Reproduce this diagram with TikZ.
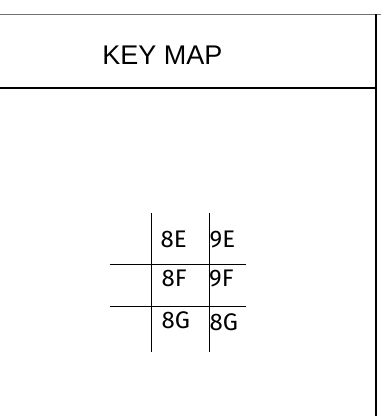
\documentclass[tikz,border=0pt]{standalone}
\usepackage{fontspec}
\setmainfont{Liberation Sans}
\newfontfamily\gridfont{Fira Sans}
\usepackage{xcolor}
\usepackage{tikz}
\usetikzlibrary{positioning}
\definecolor{KeyInk}{gray}{0.0}
\definecolor{KeyRule}{gray}{0.45}

\begin{document}
\begin{tikzpicture}[x=1pt,y=-1pt,font=\gridfont\fontsize{24}{28}\selectfont,
    frame/.style={line width=1.3pt,draw=KeyInk},
    grid/.style={line width=1pt,draw=KeyInk},
    cell/.style={anchor=base west,inner sep=0pt,text=KeyInk}]
  \useasboundingbox (0,0) rectangle (381,416);
  % title block
  \draw[line width=1pt,draw=KeyRule] (0,14) -- (381,14);
  \draw[frame] (0,88) -- (376,88);
  \draw[frame] (376,14) -- (376,416);
  \node[inner sep=0pt,font=\rmfamily\fontsize{27}{30}\selectfont] (title) at (162.5,55) {KEY MAP};
  % sheet grid
  \draw[grid] (151,213) -- (151,352);
  \draw[grid] (209,213) -- (209,352);
  \draw[grid] (110,264) -- (246,264);
  \draw[grid] (110,306) -- (246,306);
  \node[cell] (s8E) at (160.5,247) {8E};
  \node[cell] (s9E) at (209.5,247) {9E};
  \node[cell] (s8F) at (161.5,286) {8F};
  \node[cell] (s9F) at (209,286) {9F};
  \node[cell] (s8G) at (161.5,328) {8G};
  \node[cell] (s8Gb) at (209.5,330) {8G};
\end{tikzpicture}
\end{document}
